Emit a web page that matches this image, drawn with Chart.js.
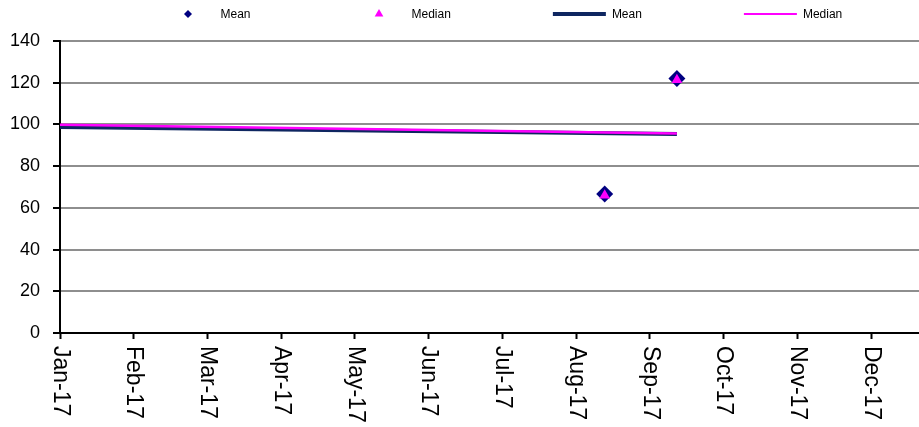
<!DOCTYPE html>
<html><head><meta charset="utf-8">
<script src="https://cdn.jsdelivr.net/npm/chart.js@4"></script>
<style>html,body{margin:0;padding:0;background:#fff;}#wrap{width:919px;height:427px;}</style>
</head><body><div id="wrap"><canvas id="c" width="919" height="427"></canvas></div>
<script>
const monthLabels = ['Jan-17','Feb-17','Mar-17','Apr-17','May-17','Jun-17','Jul-17','Aug-17','Sep-17','Oct-17','Nov-17','Dec-17'];
const yTicks = [0, 20, 40, 60, 80, 100, 120, 140];
const pointDates = ['2017-08-13', '2017-09-12'];
const meanPoints = [66.6, 122.0];
const medianPoints = [66.0, 121.3];
const lineDates = ['2017-01-01', '2017-09-12'];
const meanLine = [98.8, 95.4];
const medianLine = [99.9, 95.6];

const FONT = '"Liberation Sans", Arial, sans-serif';

function monthPos(s) {
  const [y, m, d] = s.split('-').map(Number);
  const dim = new Date(y, m, 0).getDate();
  return (y - 2017) * 12 + (m - 1) + (d - 1) / dim;
}
const toXY = (dates, vals) => dates.map((d, i) => ({x: monthPos(d), y: vals[i]}));

const legendPlugin = {
  id: 'excelLegend',
  afterDraw(chart) {
    const ctx = chart.ctx;
    const area = chart.chartArea;
    ctx.save();
    ctx.font = '12px ' + FONT;
    ctx.textBaseline = 'middle';
    ctx.textAlign = 'left';
    let x = area.left + 101.5;
    const y = 15;
    const boxW = 53;
    chart.data.datasets.forEach(ds => {
      if (ds.showLine) {
        ctx.strokeStyle = ds.borderColor;
        ctx.lineWidth = ds.legendLineWidth;
        ctx.beginPath();
        ctx.moveTo(x, y - 1);
        ctx.lineTo(x + boxW, y - 1);
        ctx.stroke();
      } else {
        ctx.fillStyle = ds.backgroundColor;
        Chart.helpers.drawPoint(ctx, {pointStyle: ds.pointStyle, radius: ds.legendRadius, borderWidth: 0, rotation: 0}, x + boxW / 2, y - 1);
      }
      ctx.fillStyle = '#000';
      ctx.fillText(ds.label, x + boxW + 6, y);
      x += boxW + 6 + ctx.measureText(ds.label).width + 102;
    });
    ctx.restore();
  }
};

new Chart(document.getElementById('c'), {
  type: 'scatter',
  data: {
    datasets: [
      {label: 'Mean', data: toXY(pointDates, meanPoints), pointStyle: 'rectRot', pointRadius: 8.5,
       backgroundColor: '#000080', borderColor: '#000080', pointBorderWidth: 0, legendRadius: 4, order: 2},
      {label: 'Median', data: toXY(pointDates, medianPoints), pointStyle: 'triangle', pointRadius: 6.2,
       backgroundColor: '#ff00ff', borderColor: '#ff00ff', pointBorderWidth: 0, legendRadius: 5, order: 1},
      {label: 'Mean', data: toXY(lineDates, meanLine), showLine: true, pointRadius: 0, borderColor: '#0e2660',
       backgroundColor: '#0e2660', borderWidth: 4, legendLineWidth: 4, order: 4},
      {label: 'Median', data: toXY(lineDates, medianLine), showLine: true, pointRadius: 0, borderColor: '#ff00ff',
       backgroundColor: '#ff00ff', borderWidth: 2.5, legendLineWidth: 2, order: 3}
    ]
  },
  options: {
    responsive: false,
    animation: false,
    devicePixelRatio: 1,
    layout: {autoPadding: false, padding: {left: 10, top: 41, right: 0, bottom: 0}},
    plugins: {legend: {display: false}, tooltip: {enabled: false}},
    scales: {
      x: {
        type: 'linear', min: 0, max: 11.65,
        afterBuildTicks: s => { s.ticks = monthLabels.map((_, i) => ({value: i})); },
        ticks: {autoSkip: false, minRotation: -90, maxRotation: -90, padding: 7, color: '#000',
                font: {family: FONT, size: 23}, callback: v => monthLabels[v] ?? ''},
        grid: {drawOnChartArea: false, drawTicks: true, tickLength: 6, tickColor: '#000', tickWidth: 2},
        border: {color: '#000', width: 2},
        afterFit: s => {
          s.height = 94;
          s.paddingLeft = 0; s.paddingRight = 0;
          s._getXAxisLabelAlignment = () => 'left';
        }
      },
      y: {
        min: 0, max: 140,
        afterBuildTicks: s => { s.ticks = yTicks.map(v => ({value: v})); },
        ticks: {padding: 13, color: '#000', font: {family: FONT, size: 18}},
        grid: {color: c => (c.tick && c.tick.value === 0) ? 'rgba(0,0,0,0)' : '#8e8e8e', lineWidth: 2,
               tickLength: 7, tickColor: '#000', tickWidth: 2},
        border: {color: '#000', width: 2},
        afterFit: s => { s.width = 50; }
      }
    }
  },
  plugins: [legendPlugin]
});
</script></body></html>
